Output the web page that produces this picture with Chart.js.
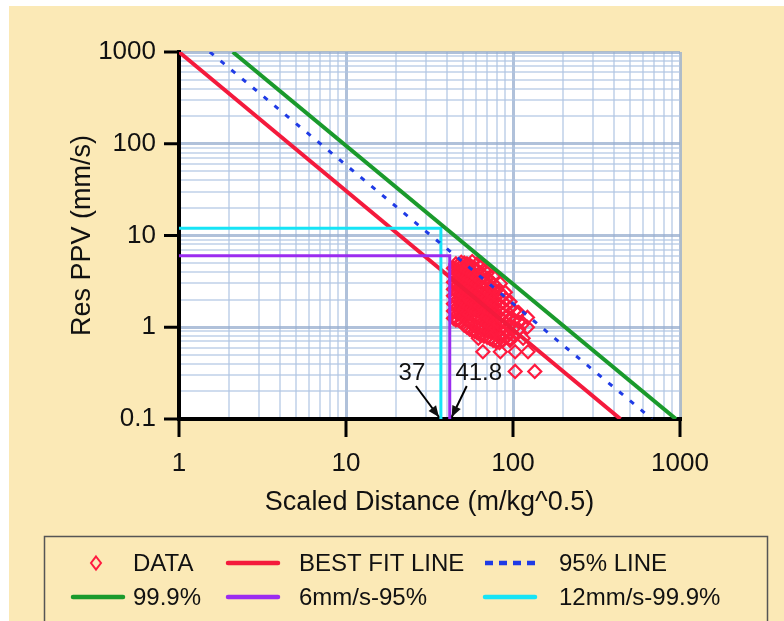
<!DOCTYPE html>
<html>
<head>
<meta charset="utf-8">
<script src="https://cdn.jsdelivr.net/npm/chart.js@4/dist/chart.umd.min.js"></script>
<style>
  html, body { margin: 0; padding: 0; background: #fff; }
  #wrap { width: 784px; height: 621px; }
</style>
</head>
<body>
<div id="wrap"><canvas id="ppvChart" width="784" height="621"></canvas></div>
<script>
// axis labels
const xTickLabels = [1, 10, 100, 1000];
const yTickLabels = [0.1, 1, 10, 100, 1000];
const xGrid = [1,2,3,4,5,6,7,8,9,10,20,30,40,50,60,70,80,90,100,200,300,400,500,600,700,800,900,1000];
const yGrid = [0.1,0.2,0.3,0.4,0.5,0.6,0.7,0.8,0.9,1,2,3,4,5,6,7,8,9,10,20,30,40,50,60,70,80,90,100,200,300,400,500,600,700,800,900,1000];

// measured data (scaled distance, res PPV)
const measured = [
  [44,1.25],[44,1.5],[44,1.8],[44,2.2],[44,2.6],[44,3.1],[44,3.7],[44,4.4],
  [45.5,1.2],[45.5,1.45],[45.5,1.75],[45.5,2.1],[45.5,2.5],[45.5,3.0],[45.5,3.6],[45.5,4.2],[45.5,4.9],
  [47,1.2],[47,1.4],[47,1.7],[47,2.0],[47,2.4],[47,2.9],[47,3.4],[47,4.0],[47,4.7],
  [49,1.15],[49,1.35],[49,1.6],[49,1.95],[49,2.3],[49,2.75],[49,3.3],[49,3.9],[49,4.6],[49,5.1],
  [51,1.05],[51,1.3],[51,1.55],[51,1.85],[51,2.2],[51,2.6],[51,3.1],[51,3.7],[51,4.4],[51,5.0],
  [53,1.0],[53,1.2],[53,1.45],[53,1.75],[53,2.1],[53,2.5],[53,3.0],[53,3.5],[53,4.2],[53,4.9],
  [55,0.95],[55,1.15],[55,1.4],[55,1.7],[55,2.0],[55,2.4],[55,2.85],[55,3.4],[55,4.0],[55,4.8],
  [57,0.92],[57,1.1],[57,1.35],[57,1.6],[57,1.9],[57,2.3],[57,2.7],[57,3.2],[57,3.8],[57,4.5],[57,5.2],
  [59,0.9],[59,1.05],[59,1.3],[59,1.55],[59,1.85],[59,2.2],[59,2.6],[59,3.1],[59,3.7],[59,4.4],
  [61,0.87],[61,1.0],[61,1.25],[61,1.5],[61,1.8],[61,2.1],[61,2.5],[61,3.0],[61,3.5],[61,4.2],[61,4.9],
  [64,0.82],[64,0.98],[64,1.2],[64,1.45],[64,1.7],[64,2.0],[64,2.4],[64,2.8],[64,3.3],[64,3.9],[64,4.5],
  [67,0.8],[67,0.95],[67,1.15],[67,1.35],[67,1.6],[67,1.9],[67,2.25],[67,2.65],[67,3.1],[67,3.6],[67,4.2],
  [70,0.78],[70,0.92],[70,1.1],[70,1.3],[70,1.55],[70,1.8],[70,2.1],[70,2.5],[70,2.9],[70,3.4],[70,3.9],
  [73,0.75],[73,0.9],[73,1.05],[73,1.25],[73,1.5],[73,1.75],[73,2.0],[73,2.35],[73,2.75],[73,3.2],
  [76,0.72],[76,0.88],[76,1.0],[76,1.2],[76,1.4],[76,1.65],[76,1.95],[76,2.25],[76,2.6],[76,3.0],
  [79,0.7],[79,0.85],[79,0.98],[79,1.15],[79,1.35],[79,1.6],[79,1.85],[79,2.15],[79,2.5],[79,2.8],
  [83,0.68],[83,0.82],[83,0.95],[83,1.1],[83,1.3],[83,1.5],[83,1.75],[83,2.05],[83,2.4],
  [87,0.72],[87,0.85],[87,1.0],[87,1.2],[87,1.4],[87,1.65],[87,1.9],[87,2.2],
  [91,0.78],[91,0.92],[91,1.1],[91,1.3],[91,1.5],[91,1.75],[91,2.0],
  [96,0.72],[96,0.88],[96,1.05],[96,1.25],[96,1.6],[96,1.9],
  [102,0.8],[102,1.0],[102,1.2],[102,1.5],
  [108,0.95],[108,1.15],[108,1.45],
  [115,0.76],[115,1.1],
  [122,1.0],[122,1.28],
  [62,0.76],[73,0.76],[84,0.76],[96,0.76],
  [66,0.54],[84,0.54],[103,0.54],[123,0.54],
  [103,0.33],[135,0.33],
  [70,4.2],[76,3.6],[84,3.0],[90,2.4],[107,1.45]
];

// fitted lines (end points)
const bestFit = [[1,1000],[440,0.1]];
const line95 = [[1.53,1000],[680,0.1]];
const line999 = [[2.1,1000],[946,0.1]];
const limit6 = [[1,6],[41.8,6],[41.8,0.1]];
const limit12 = [[1,12],[37,12],[37,0.1]];
const markers = [37, 41.8];

const FONT = '"Liberation Sans", Arial, sans-serif';
const pts = arr => arr.map(p => ({x: p[0], y: p[1]}));
const isMajor = v => Math.abs(Math.log10(v) - Math.round(Math.log10(v))) < 1e-9;

const pageBg = {
  id: 'pageBg',
  beforeDraw(chart) {
    const {ctx, chartArea: a} = chart;
    ctx.save();
    ctx.fillStyle = '#ffffff';
    ctx.fillRect(0, 0, chart.width, chart.height);
    ctx.fillStyle = '#fbe9b6';
    ctx.fillRect(9, 6, chart.width - 9, chart.height - 6);
    ctx.fillStyle = '#ffffff';
    ctx.fillRect(a.left, a.top, a.right - a.left, a.bottom - a.top);
    ctx.restore();
  }
};

const extras = {
  id: 'extras',
  afterDraw(chart) {
    const {ctx, chartArea: a} = chart;
    const xs = chart.scales.x, ys = chart.scales.y;
    ctx.save();
    // tick marks at decades
    ctx.strokeStyle = '#000';
    ctx.lineWidth = 3;
    yTickLabels.forEach(v => {
      const py = ys.getPixelForValue(v);
      ctx.beginPath(); ctx.moveTo(a.left - 15, py); ctx.lineTo(a.left, py); ctx.stroke();
    });
    xTickLabels.forEach(v => {
      const px = xs.getPixelForValue(v);
      ctx.beginPath(); ctx.moveTo(px, a.bottom); ctx.lineTo(px, a.bottom + 18); ctx.stroke();
    });

    // marker labels with arrows
    ctx.font = '24px ' + FONT;
    ctx.fillStyle = '#111';
    ctx.textAlign = 'center';
    ctx.textBaseline = 'middle';
    const arrow = (x1, y1, x2, y2) => {
      ctx.lineWidth = 2;
      ctx.beginPath(); ctx.moveTo(x1, y1); ctx.lineTo(x2, y2); ctx.stroke();
      const ang = Math.atan2(y2 - y1, x2 - x1);
      ctx.beginPath();
      ctx.moveTo(x2, y2);
      ctx.lineTo(x2 - 12 * Math.cos(ang - 0.4), y2 - 12 * Math.sin(ang - 0.4));
      ctx.lineTo(x2 - 12 * Math.cos(ang + 0.4), y2 - 12 * Math.sin(ang + 0.4));
      ctx.closePath(); ctx.fill();
    };
    const p0 = xs.getPixelForValue(markers[0]);
    const p1 = xs.getPixelForValue(markers[1]);
    ctx.fillText(String(markers[0]), p0 - 29, 373);
    arrow(p0 - 25, 386, p0 - 2, a.bottom - 2);
    ctx.fillText(String(markers[1]), p1 + 29, 373);
    arrow(p1 + 17, 386, p1 + 2, a.bottom - 2);

    // legend box
    ctx.strokeStyle = '#555';
    ctx.lineWidth = 1.5;
    ctx.strokeRect(44.5, 536.5, 723, 100);
    const colX = [73, 228, 485];
    const textX = [133, 299, 559];
    const rowY = [563, 597];
    ctx.font = '24px ' + FONT;
    ctx.textAlign = 'left';
    chart.data.datasets.forEach((ds, i) => {
      const c = i % 3, r = Math.floor(i / 3);
      const y = rowY[r];
      if (ds.showLine === false) {
        const cx = colX[c] + 23;
        ctx.strokeStyle = ds.borderColor; ctx.lineWidth = 2;
        ctx.beginPath();
        ctx.moveTo(cx, y - 6.5); ctx.lineTo(cx + 5, y); ctx.lineTo(cx, y + 6.5); ctx.lineTo(cx - 5, y);
        ctx.closePath(); ctx.stroke();
      } else {
        ctx.strokeStyle = ds.borderColor;
        ctx.lineWidth = 4.5;
        ctx.setLineDash(ds.borderDash ? [8, 6] : []);
        ctx.lineCap = ds.borderDash ? 'butt' : 'round';
        ctx.beginPath(); ctx.moveTo(colX[c], y); ctx.lineTo(colX[c] + 50, y); ctx.stroke();
        ctx.setLineDash([]);
        ctx.lineCap = 'butt';
      }
      ctx.fillStyle = '#111';
      ctx.fillText(ds.label, textX[c], y + 1);
    });
    ctx.restore();
  }
};

const gridColor = ctx => isMajor(ctx.tick.value) ? 'rgba(150,172,205,0.75)' : 'rgba(175,197,226,0.6)';
const gridWidth = ctx => isMajor(ctx.tick.value) ? 3 : 2;

new Chart(document.getElementById('ppvChart'), {
  type: 'scatter',
  data: {
    datasets: [
      {
        label: 'DATA',
        data: pts(measured),
        showLine: false,
        borderColor: '#ff1a3f',
        backgroundColor: 'rgba(0,0,0,0)',
        pointStyle: 'rectRot',
        pointRadius: 6.5,
        pointBorderWidth: 2.2,
        order: 10
      },
      {
        label: 'BEST FIT LINE',
        data: pts(bestFit),
        showLine: true,
        borderColor: '#f41a3c',
        borderWidth: 4,
        pointRadius: 0,
        order: 5
      },
      {
        label: '95% LINE',
        data: pts(line95),
        showLine: true,
        borderColor: '#1f3be6',
        borderWidth: 3,
        borderDash: [5, 9],
        pointRadius: 0,
        order: 1
      },
      {
        label: '99.9%',
        data: pts(line999),
        showLine: true,
        borderColor: '#1a9a2c',
        borderWidth: 4,
        pointRadius: 0,
        order: 2
      },
      {
        label: '6mm/s-95%',
        data: pts(limit6),
        showLine: true,
        borderColor: '#9b2cf0',
        borderWidth: 3,
        pointRadius: 0,
        order: 3
      },
      {
        label: '12mm/s-99.9%',
        data: pts(limit12),
        showLine: true,
        borderColor: '#16e4f6',
        borderWidth: 3,
        pointRadius: 0,
        order: 4
      }
    ]
  },
  options: {
    responsive: false,
    animation: false,
    devicePixelRatio: 1,
    events: [],
    layout: { padding: { left: 0, right: 104, top: 52, bottom: 91 } },
    plugins: {
      legend: { display: false },
      tooltip: { enabled: false }
    },
    scales: {
      x: {
        type: 'logarithmic',
        min: 1,
        max: 1000,
        afterBuildTicks: s => { s.ticks = xGrid.map(v => ({ value: v })); },
        afterFit: s => { s.height = 111; },
        ticks: {
          autoSkip: false,
          maxRotation: 0,
          padding: 29,
          color: '#111',
          font: { family: FONT, size: 26 },
          callback: v => xTickLabels.includes(v) ? String(v) : ''
        },
        grid: { color: gridColor, lineWidth: gridWidth, drawTicks: false },
        border: { color: '#000', width: 4 },
        title: {
          display: true,
          text: 'Scaled Distance (m/kg^0.5)',
          color: '#111',
          font: { family: FONT, size: 27 },
          padding: { top: 0, bottom: 11 }
        }
      },
      y: {
        type: 'logarithmic',
        min: 0.1,
        max: 1000,
        afterBuildTicks: s => { s.ticks = yGrid.map(v => ({ value: v })); },
        afterFit: s => { s.width = 179; },
        ticks: {
          autoSkip: false,
          padding: 23,
          color: '#111',
          font: { family: FONT, size: 26 },
          callback: v => yTickLabels.includes(v) ? String(v) : ''
        },
        grid: { color: gridColor, lineWidth: gridWidth, drawTicks: false },
        border: { color: '#000', width: 4 },
        title: {
          display: true,
          text: 'Res PPV (mm/s)',
          color: '#111',
          font: { family: FONT, size: 27 },
          padding: { top: 66, bottom: 0 }
        }
      }
    }
  },
  plugins: [pageBg, extras]
});
</script>
</body>
</html>
